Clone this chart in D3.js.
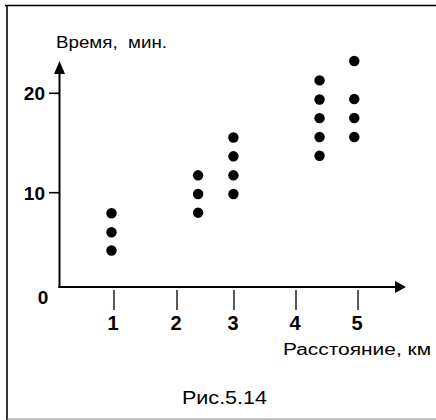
<!DOCTYPE html>
<html>
<head>
<meta charset="utf-8">
<script src="https://cdn.jsdelivr.net/npm/d3@7"></script>
<style>
  html, body { margin: 0; padding: 0; background: #fff; }
  svg { display: block; }
  text { font-family: "Liberation Sans", Arial, sans-serif; fill: #000; }
</style>
</head>
<body>
<svg id="chart" width="436" height="420"></svg>
<script>
// Data
const distances = [0.96, 0.96, 0.96, 2.37, 2.37, 2.37, 2.99, 2.99, 2.99, 2.99, 4.38, 4.38, 4.38, 4.38, 4.38, 4.94, 4.94, 4.94, 4.94];
const times     = [7.93, 6.02, 4.19, 11.75, 9.87, 7.99, 15.55, 13.66, 11.75, 9.87, 21.3, 19.38, 17.5, 15.6, 13.72, 23.25, 19.42, 17.52, 15.6];
const xTicks = [1, 2, 3, 4, 5];
const yTicks = [10, 20];
const yLabel = "Время,  мин.";
const xLabel = "Расстояние, км";
const caption = "Рис.5.14";

const svg = d3.select("#chart");

// hand-drawn axis: slightly uneven tick spacing
const x = d3.scaleLinear().domain(xTicks).range([114, 177, 234, 296, 358]);
const y = d3.scaleLinear().domain([0, 20]).range([292.1, 93.3]);

const axisX0 = 59.5;   // y-axis position
const axisY0 = 287;    // x-axis position

// Frame
svg.append("line").attr("x1", 5).attr("y1", 5.5).attr("x2", 436).attr("y2", 5.5)
  .attr("stroke", "#000").attr("stroke-width", 1.6);
svg.append("line").attr("x1", 7).attr("y1", 5).attr("x2", 7).attr("y2", 420)
  .attr("stroke", "#000").attr("stroke-width", 1.6);
svg.append("line").attr("x1", 7).attr("y1", 419).attr("x2", 436).attr("y2", 419)
  .attr("stroke", "#888").attr("stroke-width", 1);

// Y axis line with arrow
svg.append("line").attr("x1", axisX0).attr("y1", axisY0 + 1).attr("x2", axisX0).attr("y2", 70)
  .attr("stroke", "#000").attr("stroke-width", 2);
svg.append("path")
  .attr("d", `M${axisX0},61 L${axisX0 - 5.5},74 L${axisX0 + 5.5},74 Z`)
  .attr("fill", "#000");

// X axis line with arrow
svg.append("line").attr("x1", axisX0 - 1).attr("y1", axisY0).attr("x2", 398).attr("y2", axisY0)
  .attr("stroke", "#000").attr("stroke-width", 2);
svg.append("path")
  .attr("d", `M406,${axisY0} L395,${axisY0 - 6} L395,${axisY0 + 6} Z`)
  .attr("fill", "#000");

// Y ticks
const yt = svg.append("g");
yt.selectAll("line").data(yTicks).join("line")
  .attr("x1", 49).attr("x2", axisX0).attr("y1", d => y(d)).attr("y2", d => y(d))
  .attr("stroke", "#000").attr("stroke-width", 1.6);
yt.selectAll("text").data(yTicks).join("text")
  .attr("x", 45).attr("y", d => y(d) + 7)
  .attr("text-anchor", "end")
  .attr("font-size", 19).attr("font-weight", "bold")
  .text(d => d);

// Zero label
svg.append("text").attr("x", 43).attr("y", y(0) + 11.5)
  .attr("text-anchor", "middle").attr("font-size", 19).attr("font-weight", "bold")
  .text("0");

// X ticks
const xt = svg.append("g");
xt.selectAll("line").data(xTicks).join("line")
  .attr("x1", d => x(d)).attr("x2", d => x(d)).attr("y1", 290).attr("y2", 310)
  .attr("stroke", "#000").attr("stroke-width", 1.3);
xt.selectAll("text").data(xTicks).join("text")
  .attr("x", d => x(d) - 1).attr("y", 330)
  .attr("text-anchor", "middle")
  .attr("font-size", 20).attr("font-weight", "bold")
  .text(d => d);

// Points
svg.append("g").selectAll("circle").data(distances.map((d, i) => [d, times[i]])).join("circle")
  .attr("cx", d => x(d[0])).attr("cy", d => y(d[1])).attr("r", 5.2)
  .attr("fill", "#000");

// Labels
svg.append("text").attr("x", 56).attr("y", 48.3)
  .attr("font-size", 16).attr("textLength", 111).attr("lengthAdjust", "spacingAndGlyphs")
  .attr("xml:space", "preserve").style("white-space", "pre")
  .text(yLabel);
svg.append("text").attr("x", 283).attr("y", 355)
  .attr("font-size", 16).attr("textLength", 148).attr("lengthAdjust", "spacingAndGlyphs")
  .text(xLabel);
svg.append("text").attr("x", 182).attr("y", 404)
  .attr("font-size", 18).attr("textLength", 85).attr("lengthAdjust", "spacingAndGlyphs")
  .text(caption);
</script>
</body>
</html>
